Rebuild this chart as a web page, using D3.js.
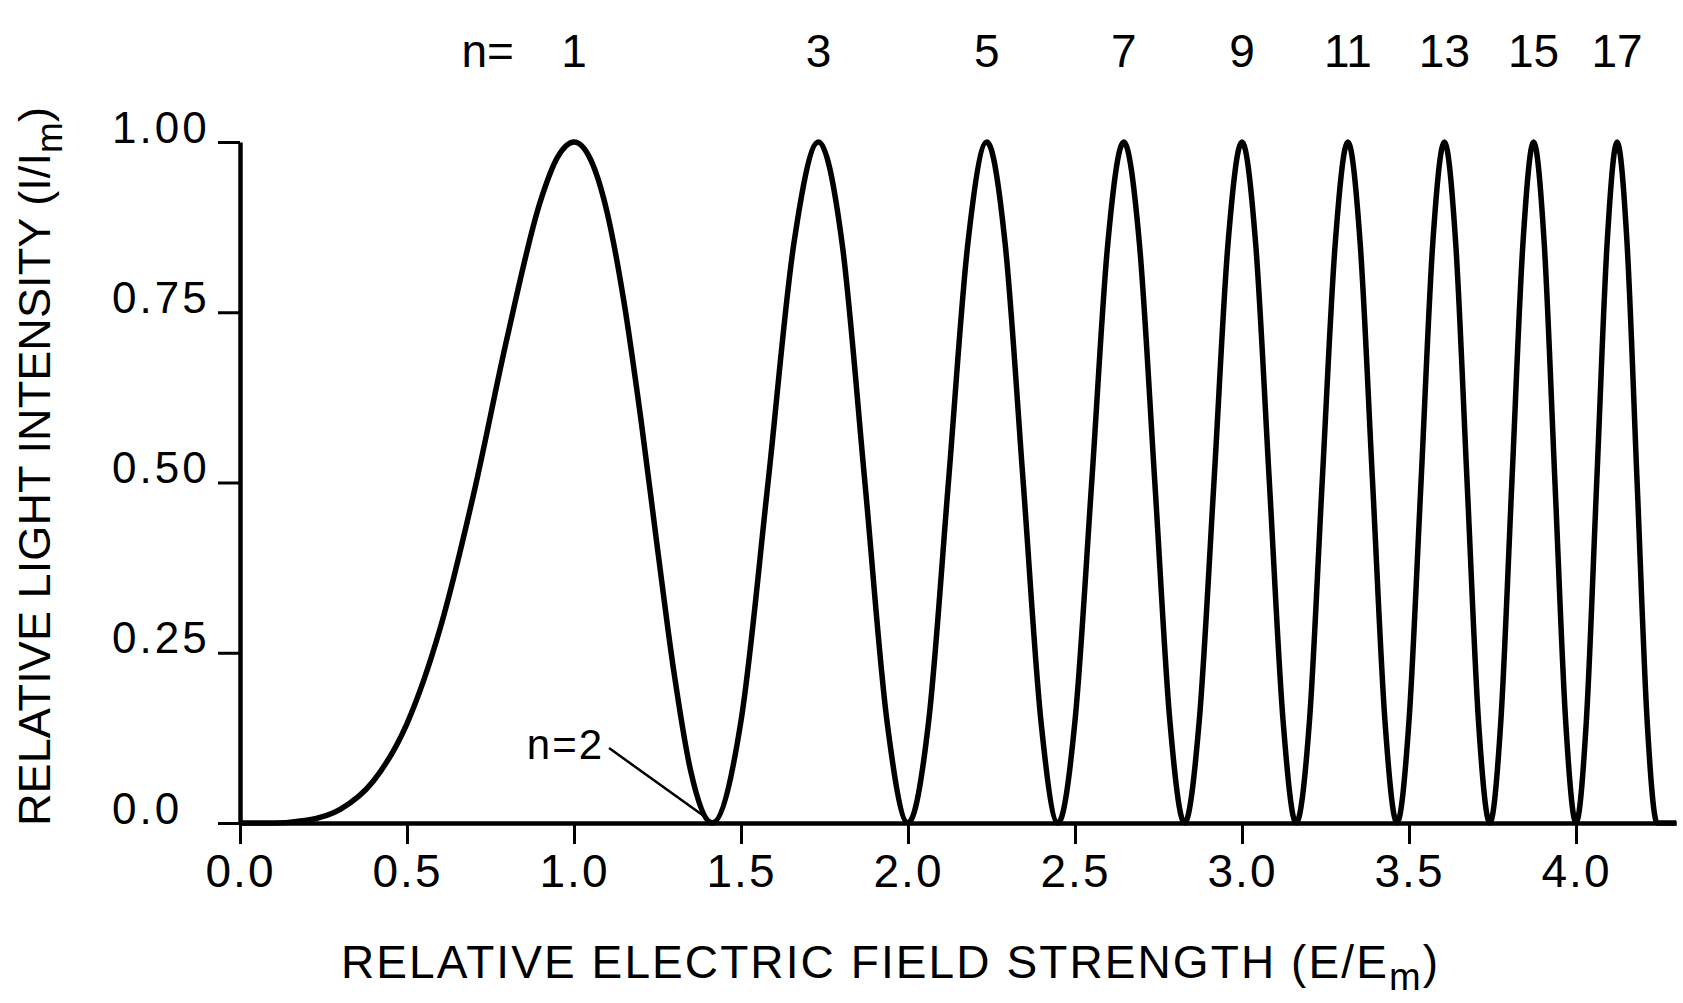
<!DOCTYPE html>
<html>
<head>
<meta charset="utf-8">
<script src="https://cdn.jsdelivr.net/npm/d3@7"></script>
<style>
  html, body { margin: 0; padding: 0; background: #fff; }
  svg text { font-family: "Liberation Sans", Arial, sans-serif; fill: #000; }
</style>
</head>
<body>
<div id="chart"></div>
<script>
// curve: relative field strength E/Em and relative intensity I/Im
var fieldE = [
  0.0, 0.1, 0.2, 0.3, 0.4, 0.5, 0.6, 0.7, 0.8, 0.9, 0.95, 1.0, 1.05, 1.1, 1.15, 1.2, 1.25, 1.3, 1.35, 1.414,
  1.5, 1.581, 1.658, 1.732, 1.803, 1.871, 1.937, 2.0,
  2.062, 2.121, 2.179, 2.236, 2.291, 2.345, 2.398, 2.449,
  2.5, 2.550, 2.598, 2.646, 2.693, 2.739, 2.784, 2.828,
  2.872, 2.916, 2.958, 3.0, 3.041, 3.082, 3.123, 3.162,
  3.202, 3.240, 3.279, 3.317, 3.354, 3.391, 3.428, 3.464,
  3.5, 3.536, 3.571, 3.606, 3.640, 3.674, 3.708, 3.742,
  3.775, 3.808, 3.841, 3.873, 3.905, 3.937, 3.969, 4.0,
  4.031, 4.062, 4.093, 4.123, 4.153, 4.183, 4.213, 4.243,
  4.30
];
var intensity = [
  0.0, 0.0, 0.004, 0.02, 0.062, 0.146, 0.287, 0.484, 0.713, 0.914, 0.977, 1.0, 0.974, 0.895, 0.764, 0.594, 0.403, 0.219, 0.075, 0.0,
  0.15, 0.5, 0.85, 1.0, 0.85, 0.5, 0.15, 0.0,
  0.15, 0.5, 0.85, 1.0, 0.85, 0.5, 0.15, 0.0,
  0.15, 0.5, 0.85, 1.0, 0.85, 0.5, 0.15, 0.0,
  0.15, 0.5, 0.85, 1.0, 0.85, 0.5, 0.15, 0.0,
  0.15, 0.5, 0.85, 1.0, 0.85, 0.5, 0.15, 0.0,
  0.15, 0.5, 0.85, 1.0, 0.85, 0.5, 0.15, 0.0,
  0.15, 0.5, 0.85, 1.0, 0.85, 0.5, 0.15, 0.0,
  0.15, 0.5, 0.85, 1.0, 0.85, 0.5, 0.15, 0.0,
  0.0
];

// order labels along the top, placed over each maximum
var orderLabels = ["1", "3", "5", "7", "9", "11", "13", "15", "17"];
var orderPeaks = [1.0, 1.732, 2.236, 2.646, 3.0, 3.317, 3.606, 3.873, 4.123];

// ticks
var xTicks = [0.0, 0.5, 1.0, 1.5, 2.0, 2.5, 3.0, 3.5, 4.0];
var xTickLabels = ["0.0", "0.5", "1.0", "1.5", "2.0", "2.5", "3.0", "3.5", "4.0"];
var yTicks = [0.0, 0.25, 0.5, 0.75, 1.0];
var yTickLabels = ["0.0", "0.25", "0.50", "0.75", "1.00"];

var width = 1683, height = 1003;
var margin = {top: 142, right: 7, bottom: 180, left: 240};

var svg = d3.select("#chart")
  .append("svg")
  .attr("width", width)
  .attr("height", height);

var x = d3.scaleLinear().domain([0, 4.3]).range([margin.left, margin.left + 4.3 * 334]);
var y = d3.scaleLinear().domain([0, 1]).range([height - margin.bottom, margin.top]);

//x axis
var gx = svg.append("g")
  .attr("transform", "translate(0," + y(0) + ")")
  .call(d3.axisBottom(x).tickValues(xTicks)
    .tickFormat(function(d, i) { return xTickLabels[i]; })
    .tickSize(21).tickSizeOuter(0));
gx.select(".domain").attr("stroke", "#000").attr("stroke-width", 4.5);
gx.selectAll(".tick line").attr("stroke", "#000").attr("stroke-width", 3);
gx.selectAll(".tick text")
  .attr("y", 64).attr("dy", 0)
  .style("font-size", "46px")
  .style("letter-spacing", "2px");

//y axis
var gy = svg.append("g")
  .attr("transform", "translate(" + x(0) + ",0)")
  .call(d3.axisLeft(y).tickValues(yTicks)
    .tickFormat(function(d, i) { return yTickLabels[i]; })
    .tickSize(22).tickSizeOuter(0));
gy.select(".domain").attr("stroke", "#000").attr("stroke-width", 4.5);
gy.selectAll(".tick line").attr("stroke", "#000").attr("stroke-width", 3);
gy.selectAll(".tick text")
  .attr("x", -128).attr("dy", 0).attr("y", 0)
  .attr("text-anchor", "start")
  .style("font-size", "44px")
  .style("letter-spacing", "3px");
gy.selectAll("text").attr("font-family", null);
gx.selectAll("text").attr("font-family", null);

//curve
var pts = fieldE.map(function(e, i) { return [e, intensity[i]]; });
var line = d3.line()
  .x(function(d) { return x(d[0]); })
  .y(function(d) { return y(d[1]); })
  .curve(d3.curveMonotoneX);

svg.append("path")
  .datum(pts)
  .attr("d", line)
  .attr("fill", "none")
  .attr("stroke", "#000")
  .attr("stroke-width", 5.5)
  .attr("stroke-linejoin", "round");

//order labels
svg.selectAll(".order")
  .data(orderLabels)
  .enter()
  .append("text")
  .attr("class", "order")
  .attr("x", function(d, i) { return x(orderPeaks[i]); })
  .attr("y", 67)
  .attr("text-anchor", "middle")
  .style("font-size", "46px")
  .text(function(d) { return d; });

svg.append("text")
  .attr("x", x(0.82))
  .attr("y", 67)
  .attr("text-anchor", "end")
  .style("font-size", "46px")
  .text("n=");

//n=2 annotation
svg.append("text")
  .attr("x", x(1.09))
  .attr("y", y(0.094))
  .attr("text-anchor", "end")
  .style("font-size", "42px")
  .style("letter-spacing", "2px")
  .text("n=2");

svg.append("line")
  .attr("x1", x(1.105)).attr("y1", y(0.11))
  .attr("x2", x(1.395)).attr("y2", y(0.008))
  .attr("stroke", "#000")
  .attr("stroke-width", 2.5);

//axis titles
var xt = svg.append("text")
  .attr("x", 341)
  .attr("y", 978)
  .attr("textLength", 1097)
  .attr("lengthAdjust", "spacing")
  .style("font-size", "46px");
xt.append("tspan").text("RELATIVE  ELECTRIC  FIELD  STRENGTH  (E/E");
xt.append("tspan").attr("dy", 12).style("font-size", "38px").text("m");
xt.append("tspan").attr("dy", -12).text(")");

var yt = svg.append("text")
  .attr("transform", "translate(50,826) rotate(-90)")
  .attr("x", 0)
  .attr("y", 0)
  .attr("textLength", 719)
  .attr("lengthAdjust", "spacing")
  .style("font-size", "45px");
yt.append("tspan").text("RELATIVE  LIGHT  INTENSITY  (I/I");
yt.append("tspan").attr("dy", 12).style("font-size", "37px").text("m");
yt.append("tspan").attr("dy", -12).text(")");
</script>
</body>
</html>
